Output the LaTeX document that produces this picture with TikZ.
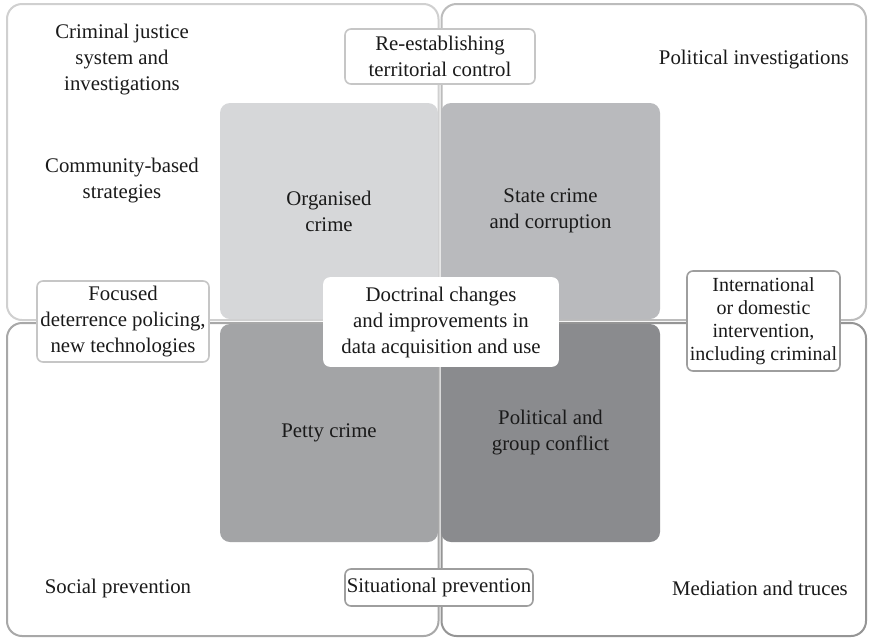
\documentclass[tikz,border=0pt]{standalone}
\usepackage{fontspec}
\setmainfont{Liberation Serif}
\definecolor{oTL}{HTML}{D0D0D0}
\definecolor{oTR}{HTML}{BCBCBC}
\definecolor{oBL}{HTML}{A8A8A8}
\definecolor{oBR}{HTML}{959595}
\definecolor{fOrg}{HTML}{D6D7D9}
\definecolor{fState}{HTML}{B9BABD}
\definecolor{fPetty}{HTML}{A3A4A6}
\definecolor{fPol}{HTML}{8A8B8E}
\definecolor{bLight}{HTML}{C6C6C6}
\definecolor{bDark}{HTML}{9E9E9E}
\definecolor{txt}{HTML}{1A1A1A}
\begin{document}
\begin{tikzpicture}[x=1pt,y=-1pt,
  quad/.style={line width=2pt, rounded corners=15pt},
  txtstyle/.style={align=center, text=txt, inner sep=0pt, font=\fontsize{20.8}{26}\selectfont},
  crimebox/.style 2 args={txtstyle, rectangle, rounded corners=10pt, minimum width=#1, minimum height=#2},
  lblbox/.style 2 args={txtstyle, rectangle, fill=white, rounded corners=6pt, line width=1.6pt, minimum width=#1, minimum height=#2}
]
\fill[white] (0,0) rectangle (870,638);
\useasboundingbox (0,0) rectangle (870,638);

% quadrant outlines
\draw[quad, oTL] (7,4) rectangle (438.5,320);
\draw[quad, oTR] (441.5,4) rectangle (866,320);
\draw[quad, oBL] (7,323) rectangle (438.5,636);
\draw[quad, oBR] (441.5,323) rectangle (866,636);

% crime boxes
\node[crimebox={218pt}{216pt}, fill=fOrg] (org) at (329,211) {Organised\\crime};
\node[crimebox={219pt}{216pt}, fill=fState] (state) at (550.5,211) {State crime\\and corruption};
\node[crimebox={218pt}{218pt}, fill=fPetty] (petty) at (329,433) {Petty crime};
\node[crimebox={219pt}{218pt}, fill=fPol] (pol) at (550.5,433) {Political and\\group conflict};

% label boxes
\node[lblbox={190pt}{55pt}, draw=bLight] (reest) at (440,56.5) {Re-establishing\\territorial control};
\node[lblbox={172pt}{81pt}, draw=bLight] (focus) at (123,321.5) {Focused\\deterrence policing,\\new technologies};
\node[lblbox={234pt}{88pt}, draw=white] (doct) at (441,322) {Doctrinal changes\\and improvements in\\data acquisition and use};
\node[lblbox={153pt}{100pt}, draw=bDark, font=\fontsize{20}{23}\selectfont] (intl) at (763.5,321) {International\\or domestic\\intervention,\\including criminal};
\node[lblbox={188pt}{37pt}, draw=bDark] (situ) at (439,587.5) {Situational prevention};

% free texts
\node[txtstyle] (crim) at (122,60) {Criminal justice\\system and\\investigations};
\node[txtstyle] (comm) at (122,181) {Community-based\\strategies};
\node[txtstyle] (polinv) at (754,60) {Political investigations};
\node[txtstyle] (social) at (118,588) {Social prevention};
\node[txtstyle] (medi) at (760,588) {Mediation and truces};
\end{tikzpicture}
\end{document}
